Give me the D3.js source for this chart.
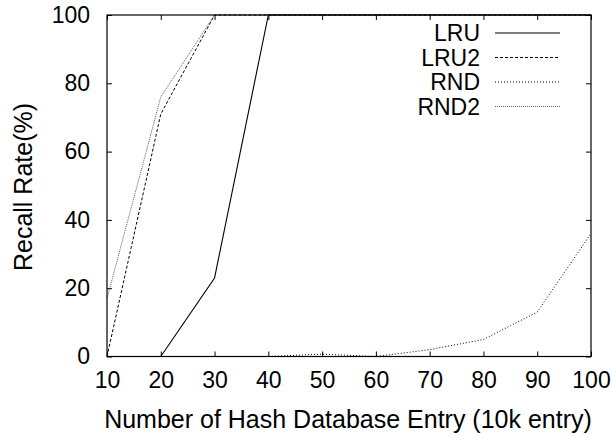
<!DOCTYPE html>
<html>
<head>
<meta charset="utf-8">
<script src="https://cdn.jsdelivr.net/npm/d3@7"></script>
<style>
  body { margin: 0; background: #fff; }
  text { font-family: "Liberation Sans", Arial, Helvetica, sans-serif; }
</style>
</head>
<body>
<div id="chart"></div>
<script>
// data
let entries = [10, 20, 30, 40, 50, 60, 70, 80, 90, 100];
let lru  = [0, 0, 23, 100, 100, 100, 100, 100, 100, 100];
let lru2 = [0, 71, 100, 100, 100, 100, 100, 100, 100, 100];
let rnd  = [0, 0, 0, 0, 0.7, 0, 2, 5, 13, 36];
let rnd2 = [17, 76, 100, 100, 100, 100, 100, 100, 100, 100];
let yTicks = [0, 20, 40, 60, 80, 100];

let seriesList = [
  { name: "LRU",  values: lru,  dash: null,  width: 1.1, color: "#000" },
  { name: "LRU2", values: lru2, dash: "3,2", width: 1,   color: "#000" },
  { name: "RND",  values: rnd,  dash: "1,2", width: 1,   color: "#000" },
  { name: "RND2", values: rnd2, dash: "1,1", width: 0.8, color: "#333" }
];

let width = 612,
    height = 437;
let margin = { top: 15, right: 21, bottom: 80.5, left: 107 };
let plotW = width - margin.left - margin.right,
    plotH = height - margin.top - margin.bottom;

let x = d3.scaleLinear().domain([10, 100]).range([0, plotW]);
let y = d3.scaleLinear().domain([0, 100]).range([plotH, 0]);

let svg = d3.select("#chart")
      .append("svg")
      .attr("width", width)
      .attr("height", height);

let g = svg.append("g")
      .attr("transform", "translate(" + margin.left + "," + margin.top + ")");

// lines
let line = d3.line()
      .x(function(d, i) { return x(entries[i]); })
      .y(function(d) { return y(d); });

g.selectAll("path.series")
    .data(seriesList)
    .enter().append("path")
    .attr("class", "series")
    .attr("d", function(d) { return line(d.values); })
    .style("fill", "none")
    .style("stroke", function(d) { return d.color; })
    .style("stroke-width", function(d) { return d.width; })
    .style("stroke-dasharray", function(d) { return d.dash; });

// axes, gnuplot style: inward ticks mirrored on all sides
let tickLen = 5;
let fs = "23px";

let xAxis = g.append("g").attr("transform", "translate(0," + plotH + ")")
      .call(d3.axisBottom(x).tickValues(entries).tickSizeInner(-tickLen).tickSizeOuter(0).tickPadding(15));
let xTop = g.append("g")
      .call(d3.axisTop(x).tickValues(entries).tickSizeInner(-tickLen).tickSizeOuter(0).tickFormat(""));
let yAxis = g.append("g")
      .call(d3.axisLeft(y).tickValues(yTicks).tickSizeInner(-tickLen).tickSizeOuter(0).tickPadding(17));
let yRight = g.append("g").attr("transform", "translate(" + plotW + ",0)")
      .call(d3.axisRight(y).tickValues(yTicks).tickSizeInner(-tickLen).tickSizeOuter(0).tickFormat(""));

[xAxis, xTop, yAxis, yRight].forEach(function(a) {
  a.select(".domain").remove();
  a.selectAll("line").style("stroke", "#000");
  a.selectAll("text").style("font-size", fs).style("fill", "#000")
    .style("font-family", "'Liberation Sans', Arial, sans-serif");
});
xAxis.selectAll("text").attr("dy", "0.71em");

// frame
g.append("rect")
    .attr("width", plotW)
    .attr("height", plotH)
    .style("fill", "none")
    .style("stroke", "#000")
    .style("stroke-width", 1.2);

// legend
let legend = g.selectAll("g.legend")
      .data(seriesList)
      .enter().append("g")
      .attr("class", "legend")
      .attr("transform", function(d, i) { return "translate(0," + (18 + i * 24.5) + ")"; });

legend.append("text")
    .attr("x", 373)
    .attr("y", 0)
    .attr("dy", "0.35em")
    .attr("text-anchor", "end")
    .style("font-size", fs)
    .text(function(d) { return d.name; });

legend.append("line")
    .attr("x1", 388)
    .attr("x2", 453)
    .style("stroke", function(d) { return d.color; })
    .style("stroke-width", function(d) { return d.width; })
    .style("stroke-dasharray", function(d) { return d.dash; });

// axis titles
svg.append("text")
    .attr("x", 348)
    .attr("y", 428)
    .attr("text-anchor", "middle")
    .style("font-size", "25px")
    .text("Number of Hash Database Entry (10k entry)");

svg.append("text")
    .attr("transform", "translate(32," + 187 + ") rotate(-90)")
    .attr("text-anchor", "middle")
    .style("font-size", "25px")
    .text("Recall Rate(%)");
</script>
</body>
</html>
